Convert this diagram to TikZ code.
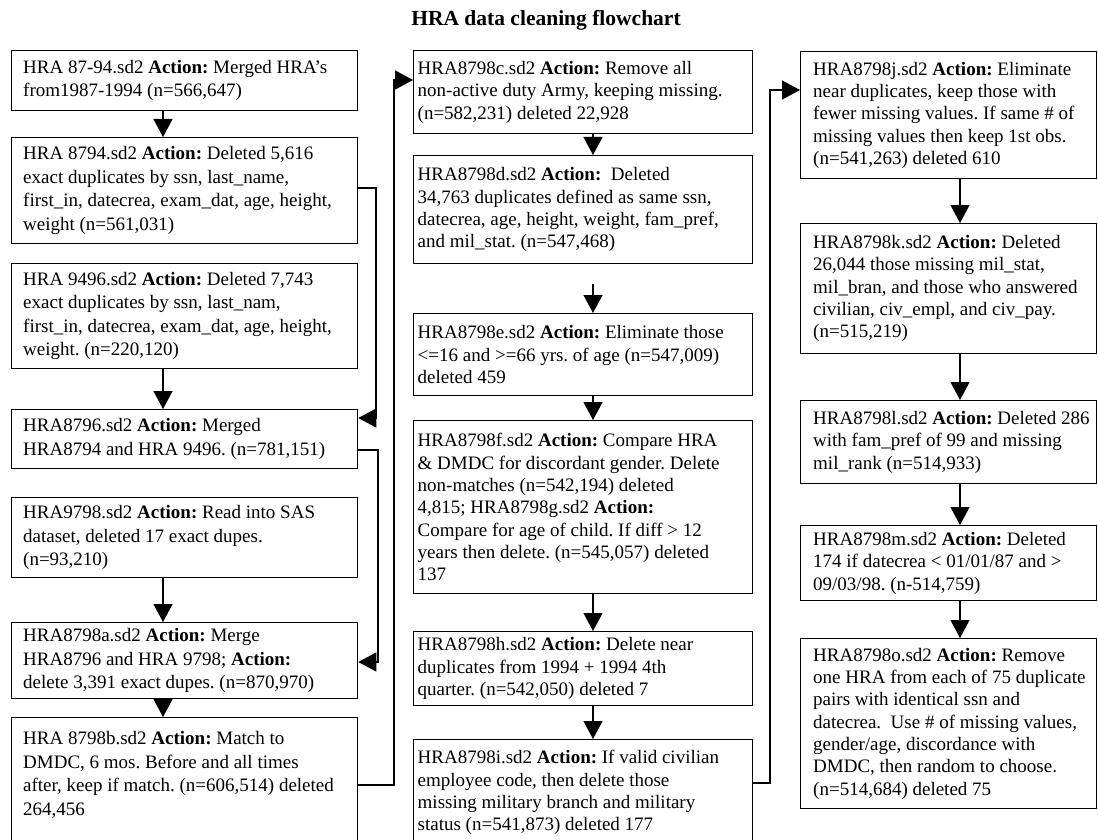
\documentclass[tikz,border=0pt]{standalone}
\usepackage{fontspec}
\setmainfont{Liberation Serif}
\usetikzlibrary{arrows.meta}
\frenchspacing
\begin{document}
\begin{tikzpicture}[x=1pt,y=-1pt,
  box/.style={draw, line width=1.3pt, inner sep=0pt, anchor=north west},
  txtbase/.style={anchor=west, align=left, inner sep=0pt},
  txtL/.style={txtbase, xshift=12pt, font=\frenchspacing\fontsize{19}{23.5}\selectfont},
  txtM/.style={txtbase, xshift=4.5pt, font=\frenchspacing\fontsize{19}{22.3}\selectfont},
  txtR/.style={txtbase, xshift=13pt, font=\frenchspacing\fontsize{19}{22.3}\selectfont},
  arr/.style={line width=1.2pt, -{Triangle[length=18pt,width=19pt]}},
  ttl/.style={font=\bfseries\fontsize{21.5}{25}\selectfont}
]
\useasboundingbox (0,0) rectangle (1098,840);
\fill[white] (0,0) rectangle (1098,840);

\node[ttl] (title) at (546,20) {HRA data cleaning flowchart};

% ---------------- left column ----------------
\node[box, minimum width=346pt, minimum height=60pt,
  label={[txtL]west:{HRA 87-94.sd2 \textbf{Action:} Merged HRA’s\\from1987-1994 (n=566,647)}}] (L1) at (11,50) {};
\node[box, minimum width=346pt, minimum height=106pt,
  label={[txtL]west:{HRA 8794.sd2 \textbf{Action:} Deleted 5,616\\exact duplicates by ssn, last\_name,\\first\_in, datecrea, exam\_dat, age, height,\\weight (n=561,031)}}] (L2) at (11,137) {};
\node[box, minimum width=346pt, minimum height=105pt,
  label={[txtL]west:{HRA 9496.sd2 \textbf{Action:} Deleted 7,743\\exact duplicates by ssn, last\_nam,\\first\_in, datecrea, exam\_dat, age, height,\\weight. (n=220,120)}}] (L3) at (11,263) {};
\node[box, minimum width=346pt, minimum height=59pt,
  label={[txtL]west:{HRA8796.sd2 \textbf{Action:} Merged\\HRA8794 and HRA 9496. (n=781,151)}}] (L4) at (11,409) {};
\node[box, minimum width=346pt, minimum height=80pt,
  label={[txtL]west:{HRA9798.sd2 \textbf{Action:} Read into SAS\\dataset, deleted 17 exact dupes.\\(n=93,210)}}] (L5) at (11,497) {};
\node[box, minimum width=346pt, minimum height=76pt,
  label={[txtL]west:{HRA8798a.sd2 \textbf{Action:} Merge\\HRA8796 and HRA 9798; \textbf{Action:}\\delete 3,391 exact dupes. (n=870,970)}}] (L6) at (11,622) {};
\node[box, minimum width=346pt, minimum height=128pt,
  label={[txtL, yshift=7pt]west:{HRA 8798b.sd2 \textbf{Action:} Match to\\DMDC, 6 mos. Before and all times\\after, keep if match. (n=606,514) deleted\\264,456}}] (L7) at (11,717) {};

% ---------------- middle column ----------------
\node[box, minimum width=339pt, minimum height=83pt,
  label={[txtM]west:{HRA8798c.sd2 \textbf{Action:} Remove all\\non-active duty Army, keeping missing.\\(n=582,231) deleted 22,928}}] (M1) at (413,50) {};
\node[box, minimum width=339pt, minimum height=108pt,
  label={[txtM]west:{HRA8798d.sd2 \textbf{Action:}\ \ Deleted\\34,763 duplicates defined as same ssn,\\datecrea, age, height, weight, fam\_pref,\\and mil\_stat. (n=547,468)}}] (M2) at (413,155) {};
\node[box, minimum width=339pt, minimum height=82pt,
  label={[txtM]west:{HRA8798e.sd2 \textbf{Action:} Eliminate those\\<=16 and >=66 yrs. of age (n=547,009)\\deleted 459}}] (M3) at (413,313) {};
\node[box, minimum width=339pt, minimum height=173pt,
  label={[txtM]west:{HRA8798f.sd2 \textbf{Action:} Compare HRA\\\& DMDC for discordant gender. Delete\\non-matches (n=542,194) deleted\\4,815; HRA8798g.sd2 \textbf{Action:}\\Compare for age of child. If diff > 12\\years then delete. (n=545,057) deleted\\137}}] (M4) at (413,420) {};
\node[box, minimum width=339pt, minimum height=74pt,
  label={[txtM]west:{HRA8798h.sd2 \textbf{Action:} Delete near\\duplicates from 1994 + 1994 4th\\quarter. (n=542,050) deleted 7}}] (M5) at (413,631) {};
\node[box, minimum width=339pt, minimum height=106pt,
  label={[txtM]west:{HRA8798i.sd2 \textbf{Action:} If valid civilian\\employee code, then delete those\\missing military branch and military\\status (n=541,873) deleted 177}}] (M6) at (413,739) {};

% ---------------- right column ----------------
\node[box, minimum width=296pt, minimum height=127pt,
  label={[txtR]west:{HRA8798j.sd2 \textbf{Action:} Eliminate\\near duplicates, keep those with\\fewer missing values. If same \# of\\missing values then keep 1st obs.\\(n=541,263) deleted 610}}] (R1) at (800,51) {};
\node[box, minimum width=296pt, minimum height=130pt,
  label={[txtR]west:{HRA8798k.sd2 \textbf{Action:} Deleted\\26,044 those missing mil\_stat,\\mil\_bran, and those who answered\\civilian, civ\_empl, and civ\_pay.\\(n=515,219)}}] (R2) at (800,223) {};
\node[box, minimum width=296pt, minimum height=83pt,
  label={[txtR]west:{HRA8798l.sd2 \textbf{Action:} Deleted 286\\with fam\_pref of 99 and missing\\mil\_rank (n=514,933)}}] (R3) at (800,400) {};
\node[box, minimum width=296pt, minimum height=75pt,
  label={[txtR]west:{HRA8798m.sd2 \textbf{Action:} Deleted\\174 if datecrea < 01/01/87 and >\\09/03/98. (n-514,759)}}] (R4) at (800,525) {};
\node[box, minimum width=296pt, minimum height=170pt,
  label={[txtR]west:{HRA8798o.sd2 \textbf{Action:} Remove\\one HRA from each of 75 duplicate\\pairs with identical ssn and\\datecrea.\ \ Use \# of missing values,\\gender/age, discordance with\\DMDC, then random to choose.\\(n=514,684) deleted 75}}] (R5) at (800,638) {};

% ---------------- vertical arrows ----------------
\coordinate (xl) at (163,0);
\coordinate (xm) at (593,0);
\coordinate (xr) at (960,0);
\draw[arr] (L1.south -| xl) -- (L2.north -| xl);
\draw[arr] (L3.south -| xl) -- (L4.north -| xl);
\draw[arr] (L5.south -| xl) -- (L6.north -| xl);
\draw[arr] (L6.south -| xl) -- (L7.north -| xl);

\draw[arr] (M1.south -| xm) -- (M2.north -| xm);
\draw[arr, shorten <=20pt] (M2.south -| xm) -- (M3.north -| xm);
\draw[arr] (M3.south -| xm) -- (M4.north -| xm);
\draw[arr] (M4.south -| xm) -- (M5.north -| xm);
\draw[arr] (M5.south -| xm) -- (M6.north -| xm);

\draw[arr] (R1.south -| xr) -- (R2.north -| xr);
\draw[arr] (R2.south -| xr) -- (R3.north -| xr);
\draw[arr] (R3.south -| xr) -- (R4.north -| xr);
\draw[arr] (R4.south -| xr) -- (R5.north -| xr);

% ---------------- side connectors ----------------
\coordinate (c1a) at (376,188);
\coordinate (c1b) at (376,418);
\draw[arr] (L2.east |- c1a) -- (c1a) -- (c1b) -- (L4.east |- c1b);

\coordinate (c2a) at (378,450);
\coordinate (c2b) at (378,662);
\draw[arr] (L4.east |- c2a) -- (c2a) -- (c2b) -- (L6.east |- c2b);

\coordinate (c3a) at (394,785);
\coordinate (c3b) at (394,80);
\draw[arr] (L7.east |- c3a) -- (c3a) -- (c3b) -- (M1.west |- c3b);

\coordinate (c4a) at (770,783);
\coordinate (c4b) at (770,90);
\draw[arr] (M6.east |- c4a) -- (c4a) -- (c4b) -- (R1.west |- c4b);
\end{tikzpicture}
\end{document}
